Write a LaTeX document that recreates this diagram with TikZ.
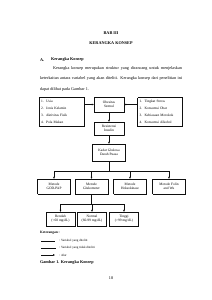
\documentclass[tikz,border=0pt]{standalone}
\usepackage{fontspec}
\setmainfont{Liberation Serif}
\usetikzlibrary{arrows.meta}
\definecolor{kkline}{RGB}{15,15,15}
\definecolor{kktextcol}{RGB}{5,5,5}

\tikzset{
  kkhead/.style={inner sep=0pt, text=kktextcol, font=\fontsize{12}{14}\selectfont\bfseries},
  kktext/.style={inner sep=0pt, text=kktextcol, font=\fontsize{12}{29.5}\selectfont},
  kksmall/.style={inner sep=0pt, text=kktextcol, font=\fontsize{9}{11}\selectfont},
  kkbox/.style={draw=kkline, line width=1.15pt, align=center, inner sep=1pt,
                text=kktextcol, font=\fontsize{10}{11.5}\selectfont},
  kkdash/.style={kkbox, dash pattern=on 1.8pt off 1pt},
  kklist/.style={text width=41mm, inner sep=2mm, align=left,
                 minimum height=29mm, font=\fontsize{10}{20}\selectfont},
  kkarrow/.style={-{Triangle[length=1.9mm,width=1.6mm]}, draw=kkline, line width=1.1pt},
  kkplain/.style={draw=kkline, line width=1.1pt},
}

\begin{document}
\begin{tikzpicture}[x=1mm, y=-1mm]
  \fill[white] (0,0) rectangle (212,300);
  \useasboundingbox (0,0) rectangle (212,300);

  % judul bab
  \node[kkhead] (bab) at (111,33) {BAB III};
  \node[kkhead] (judul) at (111,43) {KERANGKA KONSEP};
  \node[kkhead, anchor=west] (subno) at (40,60) {A.};
  \node[kkhead, anchor=west] (subjudul) at (51,60) {Kerangka Konsep};
  \node[kktext, anchor=north west, text width=142mm, align=justify] (paragraf) at (40,66.5)
    {\hspace*{13mm}Kerangka konsep merupakan struktur yang dirancang untuk menjelaskan\linebreak
     keterkaitan antara variabel yang akan diteliti. Kerangka konsep dari penelitian ini\linebreak
     dapat dilihat pada Gambar 1.};

  % kerangka konsep
  \node[kkbox, minimum width=30mm, minimum height=15mm] (obes) at (109,104.5) {Obesitas\\Sentral};
  \node[kkbox, kklist] (faktor) at (61.5,111.5)
    {1.\hspace{2.5mm}Usia\\2.\hspace{2.5mm}Jenis Kelamin\\3.\hspace{2.5mm}Aktivitas Fisik\\4.\hspace{2.5mm}Pola Makan};
  \node[kkdash, kklist] (perancu) at (160,112)
    {1.\hspace{2.5mm}Tingkat Stress\\2.\hspace{2.5mm}Konsumsi Obat\\3.\hspace{2.5mm}Kebiasaan Merokok\\4.\hspace{2.5mm}Konsumsi Alkohol};
  \node[kkdash, minimum width=30mm, minimum height=13mm] (resist) at (109,128.5) {Resistensi\\Insulin};
  \node[kkbox, minimum width=33mm, minimum height=17mm] (kadar) at (109,152.5) {Kadar Glukosa\\Darah Puasa};

  \node[kkdash, minimum width=33mm, minimum height=15mm] (god) at (54,186.5) {Metode\\GOD-PAP};
  \node[kkbox, minimum width=33mm, minimum height=15mm] (gluko) at (91.5,186.5) {Metode\\Glukometer};
  \node[kkdash, minimum width=33mm, minimum height=15mm] (hekso) at (130,186.5) {Metode\\Heksokinase};
  \node[kkdash, minimum width=33mm, minimum height=15mm] (folin) at (169,186.5) {Metode Folin\\and Wu};

  \node[kkbox, minimum width=29mm, minimum height=14mm] (rendah) at (60.5,219) {Rendah\\(<60 mg/dL)};
  \node[kkbox, minimum width=29mm, minimum height=14mm] (normal) at (92,219) {Normal\\(60-99 mg/dL)};
  \node[kkbox, minimum width=29mm, minimum height=14mm] (tinggi) at (124,219) {Tinggi\\(>99 mg/dL)};

  \draw[kkarrow] (faktor.east |- obes.west) -- (obes.west);
  \draw[kkarrow] (perancu.west |- obes.east) -- (obes.east);
  \draw[kkarrow] (obes) -- (resist);
  \draw[kkarrow] (resist) -- (kadar);

  \draw[kkplain] (kadar.south) -- ++(0,10) coordinate (cab1);
  \draw[kkplain] (cab1 -| god.north) -- (cab1 -| folin.north);
  \foreach \m in {god,gluko,hekso,folin}
    \draw[kkarrow] (cab1 -| \m.north) -- (\m.north);

  \draw[kkplain] (gluko.south) -- ++(0,10) coordinate (cab2);
  \draw[kkplain] (cab2 -| rendah.north) -- (cab2 -| tinggi.north);
  \foreach \m in {rendah,normal,tinggi}
    \draw[kkarrow] (cab2 -| \m.north) -- (\m.north);

  % keterangan
  \node[kkhead, anchor=west, font=\fontsize{10}{12}\selectfont\bfseries] (ket) at (40,233) {Keterangan :};
  \coordinate (ga) at (41,241);  \coordinate (gb) at (55,241);
  \coordinate (ta) at (41,248);  \coordinate (tb) at (55,248);
  \coordinate (aa) at (41,255);  \coordinate (ab) at (55,255);
  \draw[kkplain] (ga) -- (gb);
  \draw[kkplain, dash pattern=on 1.8pt off 1pt] (ta) -- (tb);
  \draw[kkarrow] (aa) -- (ab);
  \node[kksmall, anchor=west] (ket1) at (59,241) {: Variabel yang diteliti};
  \node[kksmall, anchor=west] (ket2) at (59,248) {: Variabel yang tidak diteliti};
  \node[kksmall, anchor=west] (ket3) at (59,255) {: Alur};
  \node[kkhead, anchor=west] (gambar) at (40,262) {Gambar 1. Kerangka Konsep};

  \node[kktext] (hal) at (111,278) {18};
\end{tikzpicture}
\end{document}
